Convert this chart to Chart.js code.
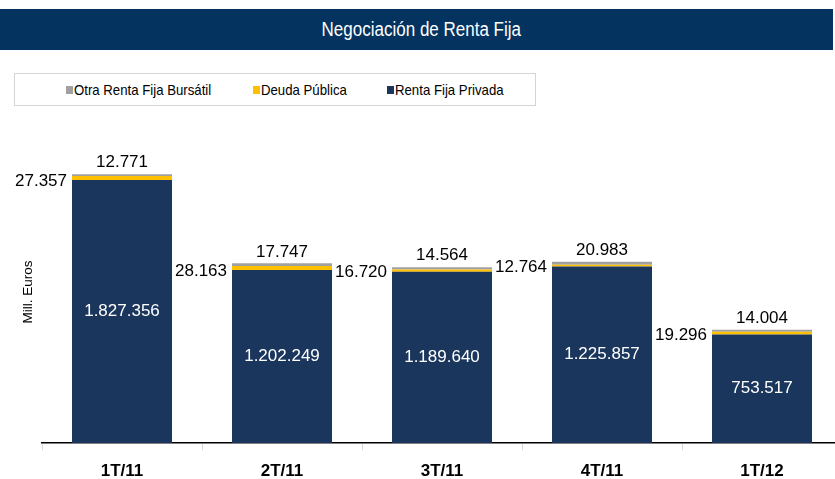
<!DOCTYPE html>
<html>
<head>
<meta charset="utf-8">
<script src="https://cdn.jsdelivr.net/npm/chart.js@4.4.1/dist/chart.umd.min.js"></script>
<style>
    body { margin: 0; width: 835px; height: 479px; overflow: hidden; background: #fff; position: relative; }
    #titleBar {
        position: absolute; left: 0; top: 9px; width: 833px; height: 41px;
        background: #05335f; color: #fff; text-align: center; line-height: 41px;
        font-family: "Liberation Sans", Arial, sans-serif; font-size: 20px;
    }
    #titleBar span { display: inline-block; transform: scaleX(0.85); margin-left: 10px; }
    #legendBox {
        position: absolute; left: 14px; top: 73px; width: 522px; height: 33px;
        border: 1px solid #d4d4d4; box-sizing: border-box;
        font-family: "Liberation Sans", Arial, sans-serif; font-size: 15px; color: #000;
    }
    .legendItem { position: absolute; top: 8px; white-space: nowrap; height: 16px; line-height: 16px; }
    .legendSwatch { position: absolute; left: 0; top: 4px; width: 7px; height: 8px; }
    .legendText { position: absolute; left: 8px; top: 0; display: inline-block; transform: scaleX(0.88); transform-origin: left center; }
    #chartWrap { position: absolute; left: 0; top: 0; width: 842px; height: 479px; }
</style>
</head>
<body>
<div id="titleBar"><span>Negociación de Renta Fija</span></div>
<div id="legendBox"></div>
<div id="chartWrap"><canvas id="rentaFijaChart" width="842" height="479"></canvas></div>
<script>
const categories = ['1T/11', '2T/11', '3T/11', '4T/11', '1T/12'];
const rentaFijaPrivada = [1827356, 1202249, 1189640, 1225857, 753517];
const deudaPublica = [27357, 28163, 16720, 12764, 19296];
const otraRentaFija = [12771, 17747, 14564, 20983, 14004];
const yAxisMax = 2300000;

function formatNumber(value) {
    return String(value).replace(/\B(?=(\d{3})+(?!\d))/g, '.');
}

// draws the value labels next to each segment
const barLabels = {
    id: 'barLabels',
    afterDatasetsDraw: function (chart) {
        const ctx = chart.ctx;
        const privadaMeta = chart.getDatasetMeta(0);
        const otraMeta = chart.getDatasetMeta(2);
        ctx.save();
        ctx.font = '17px "Liberation Sans", Arial, sans-serif';
        privadaMeta.data.forEach(function (bar, i) {
            ctx.fillStyle = '#ffffff';
            ctx.textAlign = 'center';
            ctx.textBaseline = 'middle';
            ctx.fillText(formatNumber(rentaFijaPrivada[i]), bar.x, (bar.y + bar.base) / 2);

            ctx.fillStyle = '#000000';
            ctx.textAlign = 'right';
            ctx.fillText(formatNumber(deudaPublica[i]), bar.x - bar.width / 2 - 5, bar.y + 1);

            const top = otraMeta.data[i];
            ctx.textAlign = 'center';
            ctx.textBaseline = 'bottom';
            ctx.fillText(formatNumber(otraRentaFija[i]), top.x, top.y - 3);
        });

        ctx.translate(28, 292);
        ctx.rotate(-Math.PI / 2);
        ctx.font = '13.5px "Liberation Sans", Arial, sans-serif';
        ctx.textAlign = 'center';
        ctx.textBaseline = 'middle';
        ctx.fillText('Mill. Euros', 0, 0);
        ctx.restore();
    }
};

const chart = new Chart(document.getElementById('rentaFijaChart'), {
    type: 'bar',
    data: {
        labels: categories,
        datasets: [{
            label: 'Renta Fija Privada',
            data: rentaFijaPrivada,
            backgroundColor: '#1b365d'
        }, {
            label: 'Deuda Pública',
            data: deudaPublica,
            backgroundColor: '#ffc000'
        }, {
            label: 'Otra Renta Fija Bursátil',
            data: otraRentaFija,
            backgroundColor: '#a0a0a0'
        }]
    },
    options: {
        responsive: false,
        animation: false,
        layout: { padding: { top: 112, left: 0, right: 0, bottom: 0 } },
        datasets: {
            bar: { categoryPercentage: 1, barPercentage: 0.625 }
        },
        plugins: {
            legend: { display: false },
            tooltip: { enabled: false }
        },
        scales: {
            x: {
                stacked: true,
                afterFit: function (scale) { scale.height = 36; },
                grid: {
                    drawOnChartArea: false,
                    tickLength: 7,
                    color: '#d9d9d9'
                },
                border: { color: '#000000', width: 1.5 },
                ticks: {
                    padding: 11,
                    color: '#000000',
                    font: { family: '"Liberation Sans", Arial, sans-serif', size: 17, weight: 'bold' }
                }
            },
            y: {
                stacked: true,
                min: 0,
                max: yAxisMax,
                afterFit: function (scale) { scale.width = 42; },
                grid: { display: false },
                border: { display: false },
                ticks: { display: false }
            }
        }
    },
    plugins: [barLabels]
});

// legend box, in reverse dataset order like the original
const legendBox = document.getElementById('legendBox');
const legendLeft = [51, 238, 372];
chart.data.datasets.slice().reverse().forEach(function (ds, i) {
    const item = document.createElement('div');
    item.className = 'legendItem';
    item.style.left = legendLeft[i] + 'px';
    item.innerHTML = '<span class="legendSwatch" style="background:' + ds.backgroundColor + '"></span>' +
        '<span class="legendText">' + ds.label + '</span>';
    legendBox.appendChild(item);
});
</script>
</body>
</html>
